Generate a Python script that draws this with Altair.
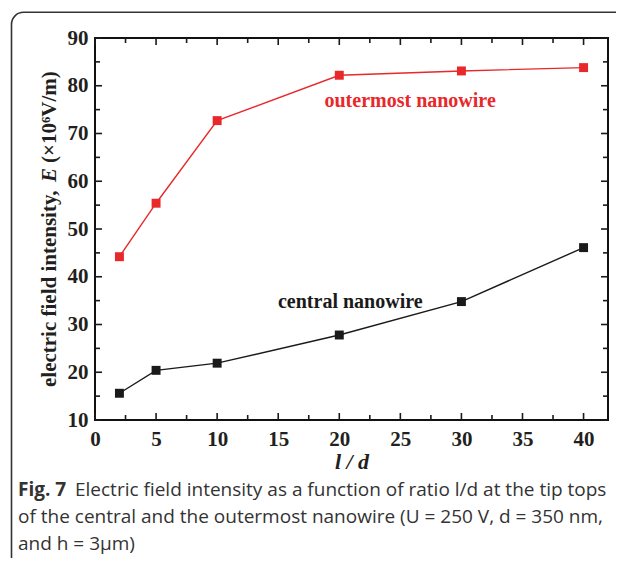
import altair as alt
import pandas as pd

# ---- data ----
ratio = [2, 5, 10, 20, 30, 40]
outermost = [44.2, 55.4, 72.7, 82.2, 83.1, 83.8]
central = [15.6, 20.4, 21.9, 27.8, 34.8, 46.1]

x_major = [0, 5, 10, 15, 20, 25, 30, 35, 40]
x_minor = [2.5, 7.5, 12.5, 17.5, 22.5, 27.5, 32.5, 37.5]
y_major = [10, 20, 30, 40, 50, 60, 70, 80, 90]
y_minor = [15, 25, 35, 45, 55, 65, 75, 85]

label_text = ["outermost nanowire", "central nanowire"]
label_x = [25.8, 20.9]
label_y = [75.6, 33.5]
label_color = ["#e8282b", "#1a1a1a"]

caption_lines = [
    "Electric field intensity as a function of ratio l/d at the tip tops",
    "of the central and the outermost nanowire (U = 250 V, d = 350 nm,",
    "and h = 3μm)",
]

W, H = 513, 382
RED = "#e8282b"
BLK = "#1a1a1a"
SERIF = "Liberation Serif"

xs = alt.Scale(domain=[0, 42], nice=False, zero=False)
ys = alt.Scale(domain=[10, 90], nice=False, zero=False)

x_axis = alt.Axis(values=x_major, tickSize=0, domain=False, grid=False,
                  labelFont=SERIF, labelFontWeight="bold", labelFontSize=21,
                  labelColor="#231f20", labelPadding=8, labelFlush=False,
                  title="l / d", titleFont=SERIF, titleFontWeight="bold",
                  titleFontStyle="italic", titleFontSize=22, titleColor="#231f20",
                  titleY=48, titleBaseline="alphabetic")
y_axis = alt.Axis(values=y_major, tickSize=0, domain=False, grid=False,
                  labelFont=SERIF, labelFontWeight="bold", labelFontSize=21,
                  labelColor="#231f20", labelPadding=7, labelFlush=False,
                  title=None)

def X(field):
    return alt.X(field, scale=xs, axis=x_axis)

def Y(field):
    return alt.Y(field, scale=ys, axis=y_axis)

df = pd.DataFrame({
    "ratio": ratio * 2,
    "E": outermost + central,
    "series": ["outermost"] * len(ratio) + ["central"] * len(ratio),
})
df_out = df[df.series == "outermost"]
df_cen = df[df.series == "central"]

line_out = alt.Chart(df_out).mark_line(color=RED, strokeWidth=1.4).encode(
    x=X("ratio:Q"), y=Y("E:Q"))
pts_out = alt.Chart(df_out).mark_point(shape="square", filled=True, color=RED,
                                        size=80, opacity=1).encode(
    x=X("ratio:Q"), y=Y("E:Q"))
line_cen = alt.Chart(df_cen).mark_line(color=BLK, strokeWidth=1.4).encode(
    x=X("ratio:Q"), y=Y("E:Q"))
pts_cen = alt.Chart(df_cen).mark_point(shape="square", filled=True, color=BLK,
                                        size=80, opacity=1).encode(
    x=X("ratio:Q"), y=Y("E:Q"))

lab_df = pd.DataFrame({"t": label_text, "x": label_x, "y": label_y, "c": label_color})
labels = alt.Chart(lab_df).mark_text(font=SERIF, fontWeight="bold", fontSize=20,
                                      align="center", baseline="alphabetic").encode(
    x=X("x:Q"), y=Y("y:Q"), text="t:N",
    color=alt.Color("c:N", scale=None),
)

# inward ticks on all four sides
def xticks(vals, length):
    d = pd.DataFrame({"v": vals})
    bottom = alt.Chart(d).mark_rule(color=BLK, strokeWidth=1.6).encode(
        x=X("v:Q"), y=alt.value(H), y2=alt.value(H - length))
    top = alt.Chart(d).mark_rule(color=BLK, strokeWidth=1.6).encode(
        x=X("v:Q"), y=alt.value(0), y2=alt.value(length))
    return [bottom, top]

def yticks(vals, length):
    d = pd.DataFrame({"v": vals})
    left = alt.Chart(d).mark_rule(color=BLK, strokeWidth=1.6).encode(
        y=Y("v:Q"), x=alt.value(0), x2=alt.value(length))
    right = alt.Chart(d).mark_rule(color=BLK, strokeWidth=1.6).encode(
        y=Y("v:Q"), x=alt.value(W), x2=alt.value(W - length))
    return [left, right]

ticks = xticks(x_major, 7) + xticks(x_minor, 5) + yticks(y_major, 7) + yticks(y_minor, 5)

# y-axis title in three pieces (italic E)
yt_parts = ["electric field intensity,", "E", "(×10⁶V/m)"]
yt_pos = [349, 144, 125]
yt_style = ["normal", "italic", "normal"]
yt_layers = []
for p, yp, st in zip(yt_parts, yt_pos, yt_style):
    yt_layers.append(alt.Chart(pd.DataFrame({"t": [p]})).mark_text(
        font=SERIF, fontWeight="bold", fontStyle=st, fontSize=21, angle=270,
        align="left", baseline="middle", color="#231f20").encode(
        text="t:N", x=alt.value(-45), y=alt.value(yp)))

# caption
CAP = "Open Sans"
fig_lbl = alt.Chart(pd.DataFrame({"t": ["Fig. 7"]})).mark_text(
    font=CAP, fontWeight="bold", fontSize=19, align="left", baseline="alphabetic",
    color="#333333").encode(text="t:N", x=alt.value(-77), y=alt.value(458))
cap_layers = []
cap_pos = [(-20, 458), (-77, 485), (-77, 512)]
for line, (cx, cy) in zip(caption_lines, cap_pos):
    cap_layers.append(alt.Chart(pd.DataFrame({"t": [line]})).mark_text(
        font=CAP, fontSize=19, align="left", baseline="alphabetic",
        color="#333333").encode(text="t:N", x=alt.value(cx), y=alt.value(cy)))

frame = alt.Chart(pd.DataFrame({"a": [0]})).mark_rect(
    fillOpacity=0, stroke="#333333", strokeWidth=1.6, cornerRadius=12).encode(
    x=alt.value(-83.5), x2=alt.value(2000), y=alt.value(-25.7), y2=alt.value(2000))

chart = alt.layer(
    frame, line_out, pts_out, line_cen, pts_cen, labels, *ticks,
    *yt_layers, fig_lbl, *cap_layers,
).properties(
    width=W, height=H,
    padding={"left": 87, "top": 30, "right": 8, "bottom": 138},
    autosize=alt.AutoSizeParams(type="none"),
).configure_view(stroke="#111111", strokeWidth=2)

chart.save("out.html", embed_options={"renderer": "svg", "actions": False})
